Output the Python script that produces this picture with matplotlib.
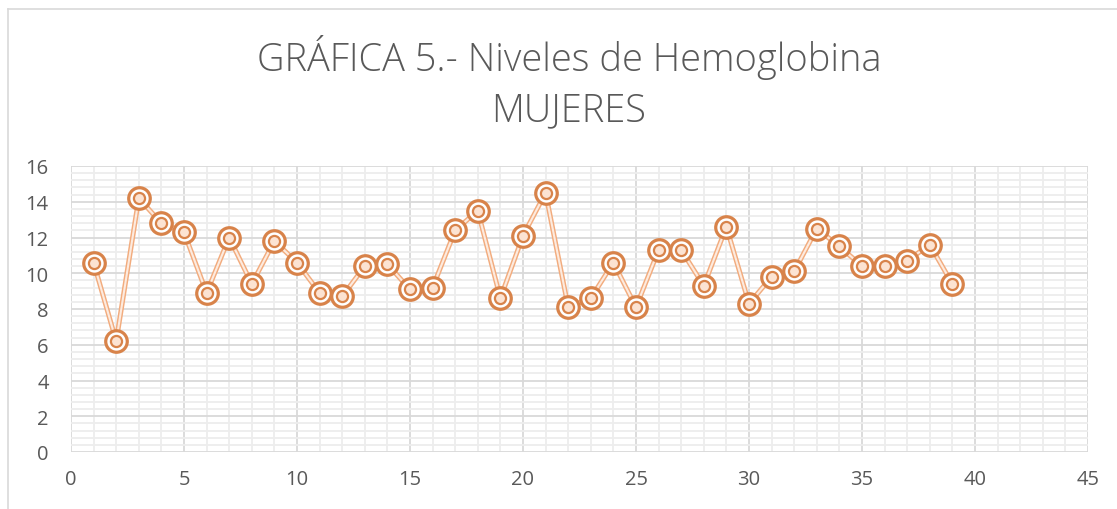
import matplotlib
matplotlib.use("Agg")
import matplotlib.pyplot as plt
from matplotlib.ticker import MultipleLocator
from matplotlib.lines import Line2D

x_vals = list(range(1, 40))
hemoglobina = [10.6, 6.2, 14.2, 12.8, 12.3, 8.9, 12.0, 9.4, 11.8, 10.6,
               8.9, 8.7, 10.4, 10.5, 9.1, 9.2, 12.4, 13.5, 8.6, 12.1,
               14.5, 8.1, 8.6, 10.6, 8.1, 11.3, 11.3, 9.3, 12.6, 8.3,
               9.8, 10.1, 12.5, 11.5, 10.4, 10.4, 10.7, 11.6, 9.4]
title_text = "GRÁFICA 5.- Niveles de Hemoglobina\nMUJERES"

plt.rcParams['font.family'] = ['Open Sans', 'DejaVu Sans']

W, H = 1117, 510
fig = plt.figure(figsize=(W / 100, H / 100), dpi=100)
ax = fig.add_axes([71 / W, 1 - 453 / H, (1088 - 71) / W, (453 - 167) / H])

ax.set_xlim(0, 45)
ax.set_ylim(0, 16)
ax.xaxis.set_major_locator(MultipleLocator(5))
ax.xaxis.set_minor_locator(MultipleLocator(1))
ax.yaxis.set_major_locator(MultipleLocator(2))
ax.yaxis.set_minor_locator(MultipleLocator(0.4))
ax.grid(which='minor', color='#EDEDED', lw=1.3, zorder=0)
ax.grid(which='major', color='#D9D9D9', lw=1.3, zorder=0)
for s in ax.spines.values():
    s.set_visible(False)
ax.tick_params(which='both', length=0, labelsize=14.5, labelcolor='#595959')
ax.tick_params(axis='y', pad=16)
ax.tick_params(axis='x', pad=12)
ax.set_axisbelow(True)

# double line
ax.plot(x_vals, hemoglobina, color='#F2AC7E', lw=3.6, zorder=2)
ax.plot(x_vals, hemoglobina, color='#FDEBDF', lw=1.5, zorder=3)
# target markers
ax.plot(x_vals, hemoglobina, ls='none', marker='o', ms=15.5, mfc='white', mec='#D8834A', mew=2.3, zorder=4)
ax.plot(x_vals, hemoglobina, ls='none', marker='o', ms=8, mfc='#FCE3D2', mec='#D8834A', mew=1.6, zorder=5)

fig.text(569 / W, 1 - 83 / H, title_text, ha='center', va='center', fontsize=27.4,
         fontweight='light', color='#595959', linespacing=1.4)

# chart border
fig.add_artist(Line2D([8 / W, 8 / W], [0, 1 - 10 / H], transform=fig.transFigure, color='#D9D9D9', lw=1.2))
fig.add_artist(Line2D([8 / W, 1], [1 - 10 / H, 1 - 10 / H], transform=fig.transFigure, color='#D9D9D9', lw=1.2))

fig.savefig("out.png", dpi=100)
